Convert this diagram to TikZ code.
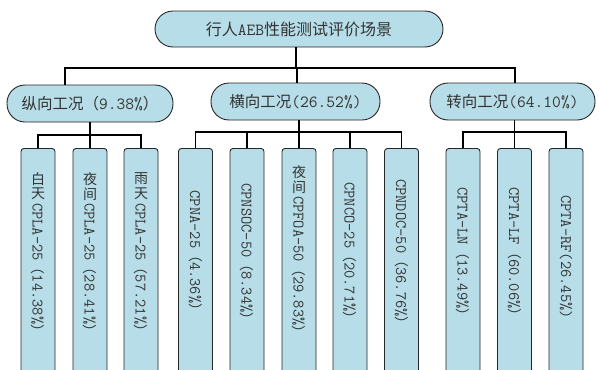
\documentclass[tikz,border=0pt]{standalone}
\usepackage{fontspec}
\newfontfamily\cjkfont{Noto Sans CJK SC}
% CJK text at pill size / leaf size
\newcommand\zh[1]{{\cjkfont\fontsize{15.5}{18}\selectfont #1}}
\newcommand\zr[1]{{\cjkfont\fontsize{16}{18}\selectfont #1}}
\newcommand\zs[1]{{\cjkfont\fontsize{14}{15}\selectfont #1}}
\definecolor{boxfill}{HTML}{B7DDE8}
\definecolor{txt}{HTML}{333333}
\begin{document}
\begin{tikzpicture}[x=1pt,y=-1pt,
  pill/.style={draw=black!85, line width=0.9pt, fill=boxfill, rounded corners=18pt, minimum height=37pt, inner sep=0pt, text=txt, font=\ttfamily\fontsize{17}{18}\selectfont},
  leaf/.style={draw=black!85, line width=0.9pt, fill=boxfill, rounded corners=3pt, minimum width=34pt, minimum height=232pt, inner sep=0pt, anchor=north},
  vtext/.style={font=\ttfamily\fontsize{16}{16}\selectfont, inner sep=0pt, text=txt},
  vlat/.style={vtext, rotate=-90},
  conn/.style={draw=black, line width=1.4pt}]
\useasboundingbox (0,0) rectangle (598,370);
\begin{scope}
\clip (0,0) rectangle (598,370);
% level 0 and 1
\node[pill, minimum width=288pt, minimum height=36pt] (root) at (299,29) {\zr{行人}AEB\zr{性能测试评价场景}};
\node[pill, minimum width=166pt] (L) at (90,103.5) {\zh{纵向工况（}9.38\%\zh{）}};
\node[pill, minimum width=169pt] (M) at (295.5,101.5) {\zh{横向工况}(26.52\%)};
\node[pill, minimum width=165pt] (R) at (512.5,101.5) {\zh{转向工况}(64.10\%)};
% leaves
\node[leaf] (a1) at (38,148) {};
\node[leaf] (a2) at (90,148) {};
\node[leaf] (a3) at (141,148) {};
\node[leaf] (a4) at (195.5,148) {};
\node[leaf] (a5) at (247,148) {};
\node[leaf] (a6) at (299,148) {};
\node[leaf] (a7) at (350,148) {};
\node[leaf] (a8) at (401.5,148) {};
\node[leaf] (a9) at (463,148) {};
\node[leaf] (a10) at (514.5,148) {};
\node[leaf] (a11) at (566,148) {};
% leaf texts
\node[vtext] (c1a) at (38,179) {\zs{白}};
\node[vtext] (c1b) at (38,194) {\zs{天}};
\node[vlat, anchor=west] (t1) at (38,203) {CPLA-25\zs{（}14.38\%\zs{）}};
\node[vtext] (c2a) at (90,179) {\zs{夜}};
\node[vtext] (c2b) at (90,194) {\zs{间}};
\node[vlat, anchor=west] (t2) at (90,203) {CPLA-25\zs{（}28.41\%\zs{）}};
\node[vtext] (c3a) at (141,179) {\zs{雨}};
\node[vtext] (c3b) at (141,194) {\zs{天}};
\node[vlat, anchor=west] (t3) at (141,203) {CPLA-25\zs{（}57.21\%\zs{）}};
\node[vlat] (t4) at (195.5,254) {CPNA-25\zs{（}4.36\%\zs{）}};
\node[vlat] (t5) at (247,255) {CPNSOC-50\zs{（}8.34\%\zs{）}};
\node[vtext] (c6a) at (299,172) {\zs{夜}};
\node[vtext] (c6b) at (299,187) {\zs{间}};
\node[vlat, anchor=west] (t6) at (299,196) {CPFOA-50\zs{（}29.83\%\zs{）}};
\node[vlat] (t7) at (350,254) {CPNCO-25\zs{（}20.71\%\zs{）}};
\node[vlat] (t8) at (401.5,255) {CPNDOC-50\zs{（}36.76\%\zs{）}};
\node[vlat] (t9) at (463,255) {CPTA-LN\zs{（}13.49\%\zs{）}};
\node[vlat] (t10) at (514.5,255) {CPTA-LF\zs{（}60.06\%\zs{）}};
\node[vlat] (t11) at (566,257) {CPTA-RF(26.45\%)};
% connectors level 0 -> 1
\coordinate (j0) at (296,68);
\coordinate (cl) at (65,0);
\coordinate (cm) at (297,0);
\coordinate (cr) at (515,0);
\draw[conn] (root.south -| j0) -- (j0);
\draw[conn] (L.north -| cl) |- (j0) -| (R.north -| cr);
\draw[conn] (M.north -| cm) -- (cm |- j0);
% group connectors
\coordinate (jL) at (90,135);
\coordinate (jM) at (299,132);
\coordinate (jR) at (514.5,132);
\draw[conn] (L.south -| jL) -- (a2.north);
\draw[conn] (a1.north) |- (jL) -| (a3.north);
\draw[conn] (M.south -| jM) -- (a6.north);
\draw[conn] (a4.north) |- (jM) -| (a8.north);
\draw[conn] (a5.north) -- (a5.north |- jM);
\draw[conn] (a7.north) -- (a7.north |- jM);
\draw[conn] (R.south -| jR) -- (a10.north);
\draw[conn] (a9.north) |- (jR) -| (a11.north);
\end{scope}
\end{tikzpicture}
\end{document}
